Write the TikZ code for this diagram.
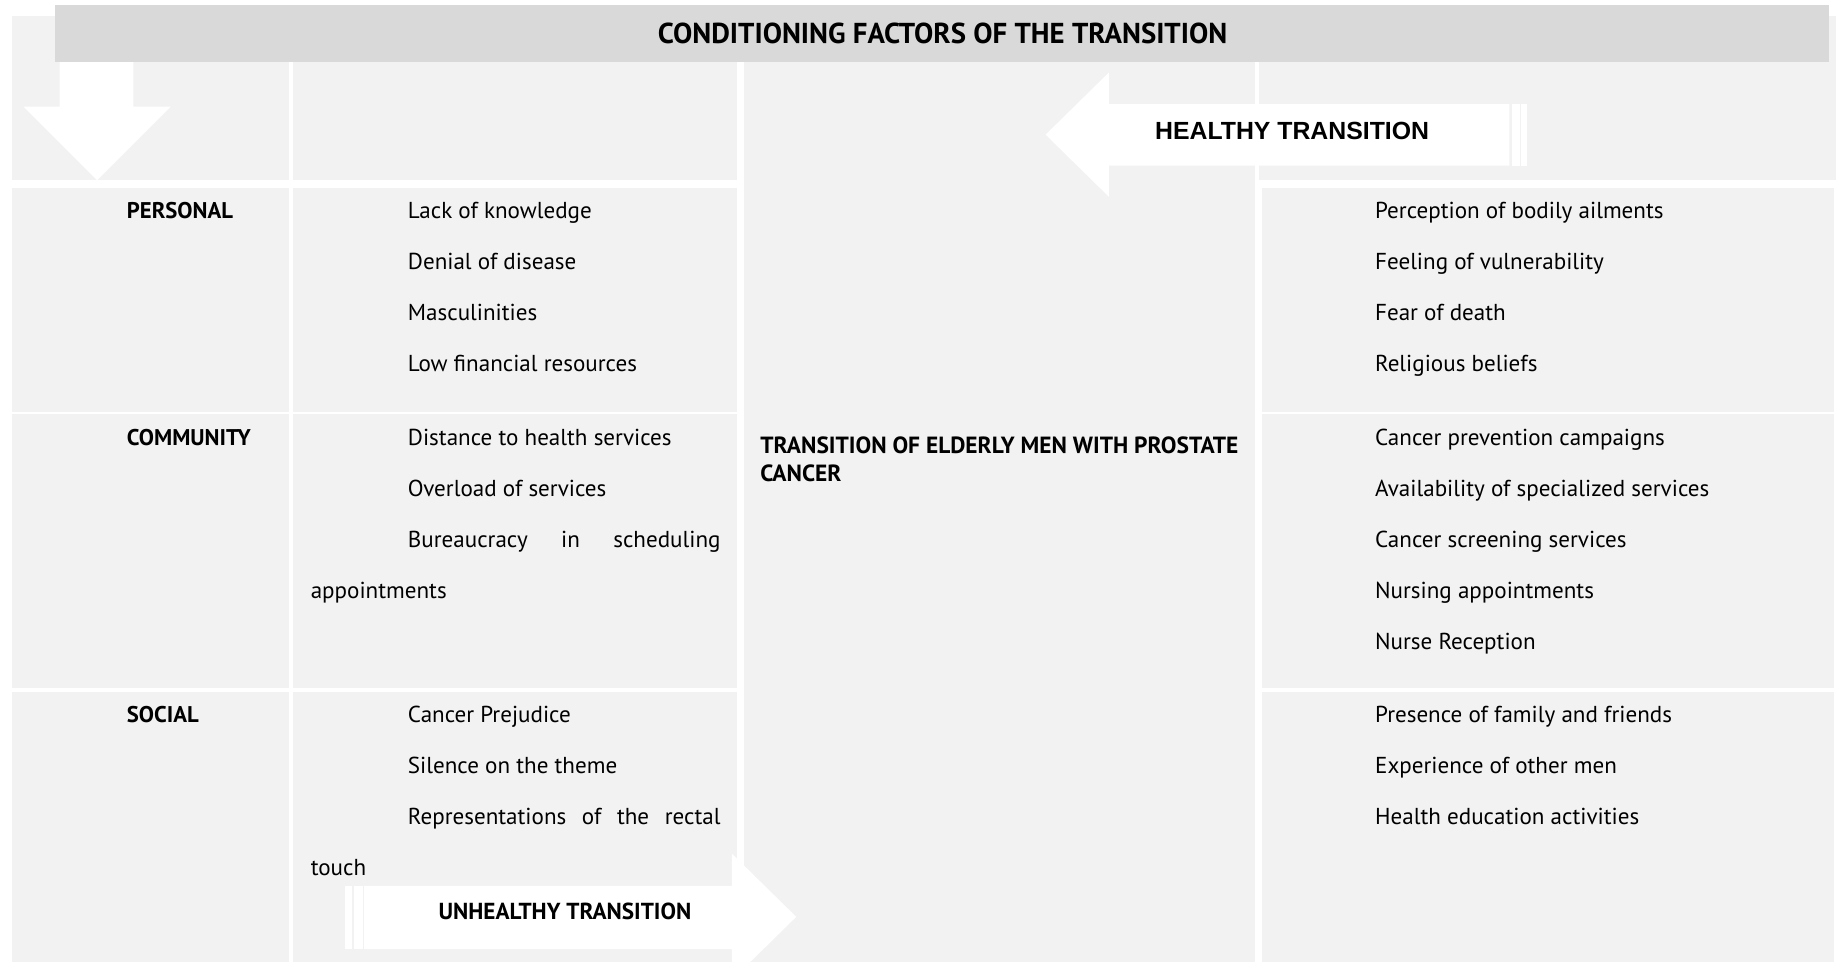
\documentclass[tikz,border=0pt]{standalone}
\usepackage{fontspec}
\setmainfont{PT Sans}
\newfontfamily\arialfont{Liberation Sans}

\definecolor{cellgray}{HTML}{F2F2F2}
\definecolor{headgray}{HTML}{D9D9D9}

\tikzset{
  cell/.style={fill=cellgray},
  blockarrow/.style={fill=white},
  item/.style={anchor=base west, inner sep=0pt, font=\fontsize{9.85}{11}\selectfont},
  factor/.style={item, font=\fontsize{9.7}{11}\selectfont\bfseries},
  arrowtext/.style={anchor=base, inner sep=0pt, font=\fontsize{9.9}{11}\selectfont\bfseries},
}

\begin{document}
\begin{tikzpicture}[x=0.5pt,y=-0.5pt]
		\useasboundingbox (0,0) rectangle (1568,822);
		\fill[white] (0,0) rectangle (1568,822);
		\clip (0,0) rectangle (1568,822);
		
		% Zellen: Kopfzeile
		\fill[cell] (10,14) rectangle (247,154);
		\fill[cell] (250,14) rectangle (629,154);
		\fill[cell] (1075.5,14) rectangle (1568,154);
		% mittlere Spalte, durchgehend
		\fill[cell] (635.5,14) rectangle (1072,822);
		% Zeilen personal, community, social
		\fill[cell] (10,160.5) rectangle (247,352);
		\fill[cell] (250,160.5) rectangle (629,352);
		\fill[cell] (1078,160.5) rectangle (1566,352);
		\fill[cell] (10,353.5) rectangle (247,588);
		\fill[cell] (250,353.5) rectangle (629,588);
		\fill[cell] (1078,353.5) rectangle (1566,588);
		\fill[cell] (10,591) rectangle (247,822);
		\fill[cell] (250,591) rectangle (629,822);
		\fill[cell] (1078,591) rectangle (1566,822);
		
		% Titelbalken
		\fill[headgray] (47,4.5) rectangle (1562,53);
		\node[anchor=base, inner sep=0pt, font=\fontsize{12.3}{13}\selectfont\bfseries] (title) at (805,37) {CONDITIONING FACTORS OF THE TRANSITION};
		
		% Pfeil nach unten
		\fill[blockarrow] (51,53) -- (114,53) -- (114,91) -- (146,91) -- (83,154) -- (20,91) -- (51,91) -- cycle;
		
		% Pfeil: healthy transition
		\fill[blockarrow] (893,115) -- (947,62) -- (947,89) -- (1289,89) -- (1289,141.5) -- (947,141.5) -- (947,168) -- cycle;
		\fill[blockarrow] (1291.5,89) rectangle (1298,141.5);
		\fill[blockarrow] (1299,89) rectangle (1304,141.5);
		\node[arrowtext, font=\arialfont\fontsize{10.6}{11}\selectfont\bfseries] (healthy) at (1103.5,119) {HEALTHY TRANSITION};
		
		% Pfeil: unhealthy transition
		\fill[blockarrow] (311,756.5) -- (625,756.5) -- (625,729) -- (680,783) -- (625,837) -- (625,810.5) -- (311,810.5) -- cycle;
		\fill[blockarrow] (294.5,756.5) rectangle (301,810.5);
		\fill[blockarrow] (302,756.5) rectangle (310,810.5);
		\node[arrowtext] (unhealthy) at (482.5,785) {UNHEALTHY TRANSITION};
		
		% Faktoren
		\node[factor] (personal) at (108,187) {PERSONAL};
		\node[factor] (community) at (108,380.5) {COMMUNITY};
		\node[factor] (social) at (108,617) {SOCIAL};
		
		% Mitte
		\node[anchor=north west, inner sep=0pt, align=left, font=\fontsize{10}{11.8}\selectfont\bfseries] (men) at (649,373) {TRANSITION OF ELDERLY MEN WITH PROSTATE\\CANCER};
		
		% hemmende Bedingungen
		\node[item] (knowledge) at (348,187) {Lack of knowledge};
		\node[item] (denial) at (348,230.5) {Denial of disease};
		\node[item] (masc) at (348,274) {Masculinities};
		\node[item] (finance) at (348,317.5) {Low financial resources};
		\node[item] (distance) at (348,380.5) {Distance to health services};
		\node[item] (overload) at (348,424) {Overload of services};
		\node[item] (bureau) at (348,467.5) {\makebox[133.5pt][s]{Bureaucracy\hfill in\hfill scheduling}};
		\node[item] (appoint) at (265,511) {appointments};
		\node[item] (prejudice) at (348,617) {Cancer Prejudice};
		\node[item] (silence) at (348,660.5) {Silence on the theme};
		\node[item] (represent) at (348,704) {\makebox[133.5pt][s]{Representations\hfill of\hfill the\hfill rectal}};
		\node[item] (touch) at (265,747.5) {touch};
		
		% foerdernde Bedingungen
		\node[item] (ailments) at (1174,187) {Perception of bodily ailments};
		\node[item] (vulner) at (1174,230.5) {Feeling of vulnerability};
		\node[item] (death) at (1174,274) {Fear of death};
		\node[item] (belief) at (1174,317.5) {Religious beliefs};
		\node[item] (campaign) at (1174,380.5) {Cancer prevention campaigns};
		\node[item] (special) at (1174,424) {Availability of specialized services};
		\node[item] (screening) at (1174,467.5) {Cancer screening services};
		\node[item] (nursing) at (1174,511) {Nursing appointments};
		\node[item] (reception) at (1174,554.5) {Nurse Reception};
		\node[item] (family) at (1174,617) {Presence of family and friends};
		\node[item] (other) at (1174,660.5) {Experience of other men};
		\node[item] (education) at (1174,704) {Health education activities};
	\end{tikzpicture}
\end{document}
